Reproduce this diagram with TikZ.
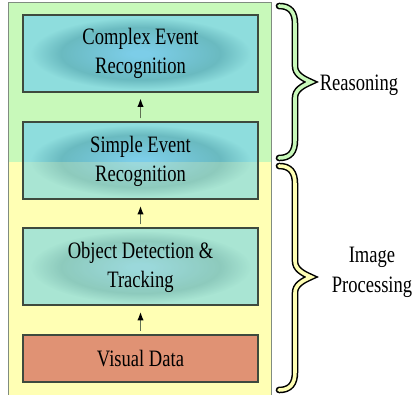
\documentclass[tikz,border=0pt]{standalone}
\usepackage{fontspec}
\setmainfont{Liberation Serif}[FakeStretch=0.79]
\usetikzlibrary{arrows.meta}

% panel backgrounds
\definecolor{reasonbg}{RGB}{200,249,186}
\definecolor{imagebg}{RGB}{255,255,180}
\definecolor{panelrule}{RGB}{128,140,128}
% stage boxes
\definecolor{boxrule}{RGB}{62,74,62}
\definecolor{tealedge}{RGB}{142,221,221}
\definecolor{tealring}{RGB}{106,186,192}
\definecolor{tealcore}{RGB}{124,205,232}
\definecolor{datafill}{RGB}{224,146,116}
\definecolor{stemcol}{RGB}{96,112,84}

% a box is stretched over +-25bp of the shading
\pgfdeclareradialshading{tealglow}{\pgfpoint{0bp}{0bp}}{%
  color(0bp)=(tealcore); color(2bp)=(tealcore); color(17bp)=(tealring);
  color(23.5bp)=(tealedge); color(50bp)=(tealedge)}

\tikzset{
  stage/.style={draw=boxrule, line width=2pt, minimum width=235pt,
    minimum height=77pt, inner sep=0pt, align=center, text=black,
    font=\fontsize{23.5}{29}\selectfont},
  % teal box; the part lying on the yellow band is washed paler
  glowbox/.style={stage, shading=tealglow,
    path picture={\fill[imagebg, fill opacity=0.24]
      (split -| path picture bounding box.west)
      rectangle (path picture bounding box.south east);}},
  databox/.style={stage, fill=datafill, minimum height=47pt},
  flow/.style={draw=stemcol, line width=1.8pt,
    -{Latex[length=9pt,width=6.5pt,fill=black,color=black]},
    shorten <=3pt, shorten >=5pt},
  bracket/.style={draw=black, line width=1.5pt, double distance=3.6pt,
    line cap=round, line join=miter},
  sidelabel/.style={align=center, text=black, inner sep=0pt,
    font=\fontsize{23.5}{30}\selectfont}
}

\begin{document}
\begin{tikzpicture}[x=1pt, y=-1pt]
  \useasboundingbox (0,0) rectangle (416,395);
  \coordinate (split) at (8.5,162);

  % layered background panel
  \fill[reasonbg] (8.5,2.5) rectangle (271,162);
  \fill[imagebg] (split) rectangle (271,396);
  \draw[panelrule, line width=1pt] (8.5,2.5) rectangle (271,396);

  % processing stages, top to bottom
  \node[glowbox] (complex) at (140.5,53.5) {Complex Event\\Recognition};
  \node[glowbox] (simple) at (140.5,161) {Simple Event\\Recognition};
  \node[glowbox] (object) at (140.5,267) {Object Detection \&\\Tracking};
  \node[databox] (visual) at (140.5,358.5) {Visual Data};

  % data flow upwards
  \draw[flow] (visual.north) -- (object.south);
  \draw[flow] (object.north) -- (simple.south);
  \draw[flow] (simple.north) -- (complex.south);

  % braces grouping the layers
  \draw[bracket, double=reasonbg]
    (279,6) .. controls (290,6) and (295,12) .. (295,24) -- (295,66)
    .. controls (295,74) and (302,78) .. (311,82)
    .. controls (302,86) and (295,90) .. (295,98) -- (295,140)
    .. controls (295,152) and (290,158) .. (279,158);
  \draw[bracket, double=imagebg]
    (279,166) .. controls (290,166) and (295,172) .. (295,184) -- (295,261)
    .. controls (295,269) and (302,273) .. (311,277)
    .. controls (302,281) and (295,285) .. (295,293) -- (295,372)
    .. controls (295,384) and (290,390) .. (279,390);

  \node[sidelabel] (reasoning) at (359,85) {Reasoning};
  \node[sidelabel] (imageproc) at (372,272) {Image\\Processing};
\end{tikzpicture}
\end{document}
